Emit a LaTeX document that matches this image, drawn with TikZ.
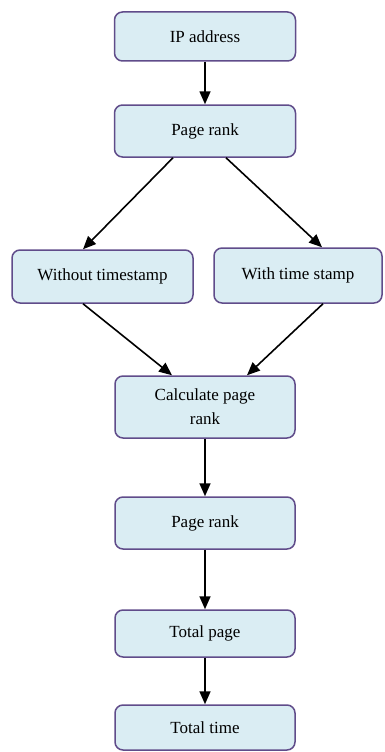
\documentclass[tikz,border=0pt]{standalone}
\usepackage{fontspec}
\setmainfont{Liberation Serif}
\usetikzlibrary{arrows.meta}
\definecolor{boxfill}{RGB}{218,237,243}
\definecolor{boxline}{RGB}{96,76,138}
\begin{document}
\begin{tikzpicture}[x=1pt,y=-1pt,
  box/.style={draw=boxline,fill=boxfill,line width=1.5pt,rounded corners=8pt,
    inner sep=0pt,align=center,font=\fontsize{17}{24}\selectfont},
  conn/.style={line width=1.6pt,-{Triangle[width=11pt,length=13pt]}}]
\useasboundingbox (0,0) rectangle (384,752);
\node[box,minimum width=181pt,minimum height=49pt] (ip) at (205,36.5) {IP address};
\node[box,minimum width=181pt,minimum height=52pt] (pr1) at (205,131) {Page rank};
\node[box,minimum width=181pt,minimum height=53pt] (wo) at (102.5,276.5) {Without timestamp};
\node[box,minimum width=168pt,minimum height=55pt] (wi) at (298,275.5) {With time stamp};
\node[box,minimum width=180pt,minimum height=62pt] (calc) at (205,407) {Calculate page\\rank};
\node[box,minimum width=180pt,minimum height=52pt] (pr2) at (205,523) {Page rank};
\node[box,minimum width=180pt,minimum height=47pt] (tp) at (205,633.5) {Total page};
\node[box,minimum width=180pt,minimum height=45pt] (tt) at (205,727.5) {Total time};
\draw[conn] (ip) -- (pr1);
\draw[conn] ([xshift=-32pt]pr1.south) -- ([xshift=-19.5pt]wo.north);
\draw[conn] ([xshift=21pt]pr1.south) -- ([xshift=24pt]wi.north);
\draw[conn] ([xshift=-19.5pt]wo.south) -- ([xshift=-33pt]calc.north);
\draw[conn] ([xshift=25pt]wi.south) -- ([xshift=42pt]calc.north);
\draw[conn] (calc) -- (pr2);
\draw[conn] (pr2) -- (tp);
\draw[conn] (tp) -- (tt);
\end{tikzpicture}
\end{document}
